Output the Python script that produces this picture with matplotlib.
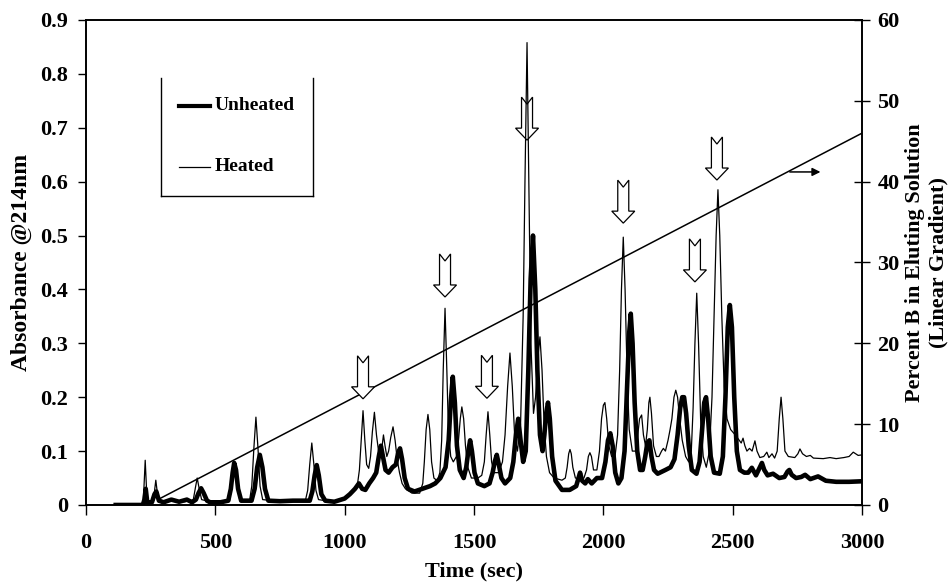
import numpy as np
import matplotlib
matplotlib.use("Agg")
import matplotlib.pyplot as plt
from matplotlib.patches import Polygon
from matplotlib.lines import Line2D
import matplotlib.transforms as mtransforms

plt.rcParams['font.family'] = ['Liberation Serif', 'DejaVu Serif']
plt.rcParams['font.weight'] = 'bold'

# heated run (thin line): (time s, absorbance)
heated_pts = [
    (115, 0.0), (215, 0.0), (222, 0.01), (226, 0.05), (229, 0.083), (232, 0.05), (236, 0.01),
    (250, 0.005), (262, 0.008), (266, 0.03), (270, 0.046), (274, 0.03), (280, 0.006),
    (300, 0.006), (350, 0.008), (380, 0.006), (405, 0.008), (415, 0.01), (423, 0.032),
    (430, 0.05), (437, 0.032), (447, 0.01), (480, 0.006), (520, 0.005), (555, 0.008),
    (565, 0.04), (574, 0.072), (583, 0.04), (595, 0.008), (633, 0.01), (641, 0.035),
    (649, 0.105), (657, 0.163), (665, 0.105), (673, 0.035), (683, 0.01), (720, 0.008),
    (780, 0.008), (849, 0.01), (857, 0.027), (865, 0.075), (873, 0.115), (881, 0.075),
    (889, 0.027), (899, 0.01), (950, 0.006), (990, 0.01), (1020, 0.02), (1040, 0.03),
    (1050, 0.04), (1057, 0.065), (1064, 0.12), (1071, 0.175), (1078, 0.12), (1085, 0.075),
    (1093, 0.068), (1100, 0.09), (1107, 0.135), (1115, 0.172), (1123, 0.13), (1131, 0.1),
    (1140, 0.09), (1145, 0.11), (1150, 0.13), (1156, 0.11), (1163, 0.09), (1170, 0.1),
    (1178, 0.125), (1187, 0.145), (1195, 0.12), (1203, 0.085), (1212, 0.06), (1222, 0.04),
    (1235, 0.03), (1260, 0.022), (1290, 0.022), (1302, 0.04), (1308, 0.08), (1315, 0.14),
    (1322, 0.168), (1329, 0.14), (1336, 0.08), (1345, 0.05), (1358, 0.045), (1368, 0.06),
    (1375, 0.12), (1381, 0.25), (1388, 0.365), (1395, 0.25), (1401, 0.14), (1410, 0.09),
    (1420, 0.08), (1432, 0.09), (1440, 0.12), (1447, 0.16), (1453, 0.182), (1460, 0.16),
    (1467, 0.11), (1476, 0.07), (1490, 0.05), (1515, 0.05), (1530, 0.055), (1540, 0.08),
    (1547, 0.13), (1554, 0.173), (1561, 0.13), (1568, 0.08), (1578, 0.06), (1595, 0.06),
    (1610, 0.08), (1620, 0.13), (1630, 0.22), (1639, 0.282), (1648, 0.22), (1657, 0.13),
    (1668, 0.1), (1680, 0.15), (1690, 0.35), (1697, 0.6), (1705, 0.858), (1712, 0.6),
    (1720, 0.3), (1730, 0.17), (1738, 0.2), (1746, 0.27), (1755, 0.312), (1763, 0.25),
    (1771, 0.15), (1780, 0.09), (1792, 0.06), (1810, 0.05), (1840, 0.046), (1853, 0.05),
    (1860, 0.07), (1866, 0.095), (1871, 0.103), (1876, 0.095), (1882, 0.07), (1892, 0.05),
    (1910, 0.048), (1925, 0.05), (1935, 0.065), (1942, 0.09), (1948, 0.097), (1954, 0.09),
    (1962, 0.065), (1975, 0.065), (1985, 0.1), (1993, 0.16), (2000, 0.185), (2006, 0.19),
    (2013, 0.16), (2021, 0.11), (2032, 0.09), (2045, 0.09), (2055, 0.13), (2063, 0.25),
    (2070, 0.4), (2077, 0.497), (2084, 0.4), (2092, 0.24), (2100, 0.14), (2112, 0.1),
    (2125, 0.1), (2133, 0.13), (2140, 0.16), (2148, 0.167), (2155, 0.13), (2163, 0.11),
    (2170, 0.14), (2176, 0.19), (2180, 0.2), (2186, 0.17), (2194, 0.11), (2205, 0.09),
    (2215, 0.09), (2225, 0.1), (2232, 0.105), (2240, 0.1), (2250, 0.12), (2258, 0.14),
    (2265, 0.16), (2273, 0.2), (2280, 0.213), (2287, 0.2), (2295, 0.16), (2305, 0.12),
    (2318, 0.09), (2330, 0.08), (2340, 0.1), (2347, 0.18), (2354, 0.3), (2361, 0.393),
    (2368, 0.3), (2376, 0.16), (2386, 0.09), (2398, 0.07), (2410, 0.1), (2420, 0.2),
    (2428, 0.35), (2436, 0.5), (2443, 0.585), (2450, 0.5), (2458, 0.35), (2467, 0.22),
    (2478, 0.16), (2492, 0.14), (2510, 0.13), (2525, 0.12), (2533, 0.115), (2540, 0.124),
    (2547, 0.11), (2555, 0.1), (2565, 0.105), (2575, 0.1), (2586, 0.119), (2594, 0.1),
    (2605, 0.088), (2620, 0.09), (2632, 0.098), (2640, 0.088), (2652, 0.095), (2662, 0.087),
    (2672, 0.1), (2680, 0.16), (2687, 0.2), (2694, 0.16), (2702, 0.1), (2715, 0.09),
    (2740, 0.088), (2752, 0.095), (2760, 0.104), (2770, 0.095), (2785, 0.09), (2800, 0.092),
    (2812, 0.087), (2850, 0.086), (2876, 0.088), (2900, 0.086), (2930, 0.088), (2950, 0.09),
    (2966, 0.098), (2985, 0.092), (3000, 0.093),
]

# unheated run (thick line)
unheated_pts = [
    (115, 0.0), (220, 0.0), (226, 0.01), (231, 0.03), (237, 0.005), (255, 0.005),
    (265, 0.02), (272, 0.025), (282, 0.008), (300, 0.005), (330, 0.01), (360, 0.006),
    (390, 0.01), (410, 0.005), (425, 0.01), (435, 0.022), (445, 0.031), (455, 0.022),
    (468, 0.008), (480, 0.005), (520, 0.005), (550, 0.008), (560, 0.03), (567, 0.06),
    (573, 0.078), (580, 0.065), (588, 0.03), (600, 0.008), (640, 0.008), (652, 0.03),
    (662, 0.07), (672, 0.093), (682, 0.07), (692, 0.03), (705, 0.008), (750, 0.007),
    (800, 0.008), (865, 0.008), (875, 0.025), (884, 0.055), (892, 0.074), (900, 0.055),
    (910, 0.02), (925, 0.008), (960, 0.006), (1000, 0.012), (1020, 0.02), (1040, 0.03),
    (1055, 0.04), (1068, 0.03), (1080, 0.028), (1095, 0.04), (1110, 0.05), (1122, 0.06),
    (1132, 0.09), (1140, 0.11), (1148, 0.09), (1158, 0.065), (1170, 0.06), (1185, 0.07),
    (1198, 0.075), (1206, 0.095), (1214, 0.105), (1222, 0.085), (1232, 0.05), (1245, 0.03),
    (1270, 0.025), (1300, 0.03), (1330, 0.035), (1350, 0.04), (1370, 0.05), (1390, 0.07),
    (1402, 0.12), (1410, 0.19), (1418, 0.238), (1426, 0.19), (1434, 0.11), (1445, 0.065),
    (1460, 0.05), (1470, 0.07), (1478, 0.1), (1485, 0.12), (1492, 0.1), (1502, 0.06),
    (1515, 0.04), (1540, 0.035), (1560, 0.04), (1572, 0.06), (1580, 0.08), (1588, 0.093),
    (1596, 0.075), (1606, 0.05), (1620, 0.04), (1640, 0.05), (1652, 0.08), (1662, 0.13),
    (1671, 0.16), (1680, 0.12), (1690, 0.08), (1700, 0.1), (1710, 0.25), (1719, 0.42),
    (1728, 0.5), (1737, 0.4), (1745, 0.25), (1755, 0.13), (1765, 0.1), (1772, 0.13),
    (1779, 0.17), (1786, 0.19), (1793, 0.16), (1802, 0.09), (1815, 0.045), (1840, 0.028),
    (1870, 0.028), (1895, 0.035), (1904, 0.05), (1910, 0.06), (1918, 0.045), (1930, 0.04),
    (1940, 0.048), (1955, 0.04), (1975, 0.05), (1995, 0.05), (2008, 0.08), (2018, 0.12),
    (2027, 0.133), (2036, 0.11), (2046, 0.06), (2058, 0.04), (2070, 0.05), (2082, 0.1),
    (2092, 0.22), (2100, 0.32), (2106, 0.355), (2113, 0.3), (2121, 0.19), (2131, 0.1),
    (2142, 0.065), (2152, 0.065), (2162, 0.09), (2170, 0.115), (2178, 0.12), (2186, 0.09),
    (2196, 0.065), (2210, 0.058), (2240, 0.065), (2260, 0.07), (2275, 0.085), (2287, 0.13),
    (2297, 0.18), (2305, 0.2), (2312, 0.2), (2320, 0.17), (2330, 0.11), (2342, 0.065),
    (2360, 0.058), (2372, 0.08), (2382, 0.14), (2390, 0.19), (2397, 0.2), (2405, 0.16),
    (2415, 0.09), (2428, 0.06), (2450, 0.058), (2462, 0.09), (2472, 0.2), (2481, 0.33),
    (2489, 0.371), (2497, 0.33), (2506, 0.2), (2516, 0.1), (2528, 0.065), (2545, 0.06),
    (2560, 0.06), (2574, 0.069), (2590, 0.055), (2605, 0.07), (2613, 0.078), (2622, 0.065),
    (2635, 0.055), (2656, 0.058), (2680, 0.05), (2700, 0.052), (2712, 0.062), (2719, 0.065),
    (2728, 0.056), (2745, 0.05), (2765, 0.052), (2780, 0.056), (2800, 0.048), (2830, 0.053),
    (2860, 0.045), (2900, 0.043), (2950, 0.043), (3000, 0.044),
]

# linear gradient (% B)
gradient_t = [280, 3000]
gradient_b = [0.7, 46.0]

# hollow marker arrows: tip position (time, absorbance)
arrow_t = [1071, 1388, 1550, 1705, 2077, 2354, 2439]
arrow_abs = [0.197, 0.386, 0.198, 0.677, 0.523, 0.414, 0.603]

x_ticks = [0, 500, 1000, 1500, 2000, 2500, 3000]
y_ticks = [0, 0.1, 0.2, 0.3, 0.4, 0.5, 0.6, 0.7, 0.8, 0.9]
y_labels = ['0', '0.1', '0.2', '0.3', '0.4', '0.5', '0.6', '0.7', '0.8', '0.9']
b_ticks = [0, 10, 20, 30, 40, 50, 60]

heated_t, heated_abs = zip(*heated_pts)
unheated_t, unheated_abs = zip(*unheated_pts)

fig = plt.figure(figsize=(9.52, 5.84), dpi=100)
ax = fig.add_axes([0.0903, 0.1353, 0.8152, 0.8305])
ax2 = ax.twinx()
ax.set_zorder(ax2.get_zorder() + 1)
ax.patch.set_visible(False)

ax.plot(unheated_t, unheated_abs, color='black', lw=3.3, zorder=3, solid_joinstyle='round')
ax.plot(heated_t, heated_abs, color='black', lw=0.9, zorder=4)

ax2.plot(gradient_t, gradient_b, color='black', lw=1.1)
ax2.annotate('', xy=(2850, 41.2), xytext=(2710, 41.2),
             arrowprops=dict(arrowstyle='-|>', color='black', lw=1.1, mutation_scale=12))

# notched down arrows, shape in inches around the tip
shape = [(0, 0), (-0.115, 0.12), (-0.055, 0.12), (-0.055, 0.43), (0, 0.36),
         (0.055, 0.43), (0.055, 0.12), (0.115, 0.12)]
for t, a in zip(arrow_t, arrow_abs):
    tr = fig.dpi_scale_trans + mtransforms.ScaledTranslation(t, a, ax.transData)
    ax.add_patch(Polygon(shape, closed=True, facecolor='white', edgecolor='black',
                         lw=0.9, transform=tr, zorder=2))

ax.set_xlim(0, 3000)
ax.set_ylim(0, 0.9)
ax2.set_ylim(0, 60)
ax.set_xticks(x_ticks)
ax.set_yticks(y_ticks)
ax.set_yticklabels(y_labels)
ax2.set_yticks(b_ticks)

ax.tick_params(axis='x', direction='out', length=7, width=1, pad=13, labelsize=16)
ax.tick_params(axis='y', direction='out', length=6, width=1, pad=7, labelsize=16)
ax2.tick_params(axis='y', direction='inout', length=12, width=1, pad=5, labelsize=16)
for a_ in (ax, ax2):
    for s in a_.spines.values():
        s.set_linewidth(1.2)

ax.set_xlabel('Time (sec)', fontsize=16, fontweight='bold', labelpad=6)
ax.set_ylabel('Absorbance @214nm', fontsize=17, fontweight='bold', labelpad=6)
ax2.set_ylabel('Percent B in Eluting Solution\n(Linear Gradient)', fontsize=16,
               fontweight='bold', labelpad=4, linespacing=1.25)

# legend with open top box
for xs, ys in [([0.097, 0.097], [0.88, 0.637]), ([0.2925, 0.2925], [0.88, 0.637]),
               ([0.097, 0.2925], [0.637, 0.637])]:
    ax.add_line(Line2D(xs, ys, transform=ax.transAxes, color='black', lw=1.0, zorder=5))
ax.add_line(Line2D([0.12, 0.16], [0.823, 0.823], transform=ax.transAxes, color='black',
                   lw=3.0, zorder=5))
ax.add_line(Line2D([0.12, 0.16], [0.697, 0.697], transform=ax.transAxes, color='black',
                   lw=0.9, zorder=5))
ax.text(0.166, 0.823, 'Unheated', transform=ax.transAxes, fontsize=14, fontweight='bold',
        va='center', ha='left')
ax.text(0.166, 0.697, 'Heated', transform=ax.transAxes, fontsize=14, fontweight='bold',
        va='center', ha='left')

fig.savefig('out.png', dpi=100)
